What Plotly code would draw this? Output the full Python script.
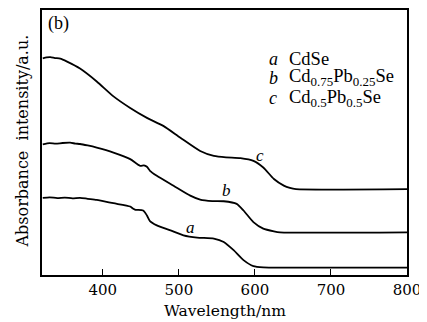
import plotly.graph_objects as go

# wavelength (nm) and absorbance (arbitrary units, offset per curve)
wl_a = [321, 330, 340, 350, 360, 370, 380, 392, 414, 436, 440, 443, 453, 458, 462, 471, 489, 506, 524, 546, 559, 572, 585, 598, 611, 625, 800]
ab_a = [77.7, 78.3, 77.5, 78.0, 77.3, 77.8, 76.8, 75.7, 72.3, 69.0, 66.7, 65.7, 65.0, 60.0, 54.3, 50.0, 45.0, 40.0, 37.7, 36.7, 33.3, 25.0, 15.0, 9.0, 7.7, 7.5, 7.5]

wl_b = [321, 330, 338, 347, 357, 364, 370, 380, 392, 414, 436, 449, 454, 458, 462, 471, 493, 515, 528, 544, 559, 576, 585, 598, 611, 625, 633, 800]
ab_b = [131.7, 132.8, 132.3, 133.0, 133.3, 132.4, 132.0, 130.5, 128.3, 123.3, 116.7, 110.0, 110.5, 109.0, 105.0, 100.0, 90.0, 80.0, 76.0, 74.5, 74.3, 71.7, 65.0, 53.3, 46.7, 44.0, 43.0, 43.0]

wl_c = [321, 326, 331, 337, 344, 353, 370, 392, 414, 436, 458, 480, 502, 528, 546, 562, 581, 598, 611, 625, 638, 646, 654, 800]
ab_c = [218.3, 219.2, 219.5, 218.6, 218.0, 215.0, 208.0, 195.0, 180.0, 168.3, 158.3, 150.0, 138.3, 125.0, 120.0, 118.5, 117.7, 115.0, 108.3, 96.7, 90.0, 87.7, 86.5, 86.5]

curve_labels = ["a", "b", "c"]
label_x = [515, 562, 607]
label_y = [48, 85, 120]

legend_names = ["CdSe", "Cd<sub>0.75</sub>Pb<sub>0.25</sub>Se", "Cd<sub>0.5</sub>Pb<sub>0.5</sub>Se"]
legend_x_letter = 616
legend_x_text = 642
legend_y = [218, 198.5, 178]

x_ticks = [400, 500, 600, 700, 800]

fig = go.Figure()
for wl, ab in [(wl_a, ab_a), (wl_b, ab_b), (wl_c, ab_c)]:
    fig.add_trace(go.Scatter(x=wl, y=ab, mode="lines",
                             line=dict(color="black", width=1.8, shape="spline", smoothing=0.6),
                             showlegend=False, hoverinfo="skip"))

ann = []
for t, x, y in zip(curve_labels, label_x, label_y):
    ann.append(dict(x=x, y=y, xref="x", yref="y", text="<i>%s</i>" % t, showarrow=False,
                    font=dict(family="Liberation Serif", size=17, color="black")))
for t, n, y in zip(curve_labels, legend_names, legend_y):
    ann.append(dict(x=legend_x_letter, y=y, xref="x", yref="y", text="<i>%s</i>" % t, showarrow=False,
                    xanchor="left", yanchor="middle",
                    font=dict(family="Liberation Serif", size=18, color="black")))
    ann.append(dict(x=legend_x_text, y=y, xref="x", yref="y", text=n, showarrow=False,
                    xanchor="left", yanchor="middle",
                    font=dict(family="Liberation Serif", size=18.5, color="black")))
ann.append(dict(x=0.01, y=0.995, xref="paper", yref="paper", text="(b)", showarrow=False,
                xanchor="left", yanchor="top",
                font=dict(family="Liberation Serif", size=18, color="black")))
ann.append(dict(x=-0.054, y=0.505, xref="paper", yref="paper", text="Absorbance\u00a0 intensity/a.u.",
                showarrow=False, textangle=-90, xanchor="center", yanchor="middle",
                font=dict(family="DejaVu Serif", size=16, color="black")))
ann.append(dict(x=0.502, y=-0.135, xref="paper", yref="paper", text="Wavelength/nm",
                showarrow=False, xanchor="center", yanchor="middle",
                font=dict(family="DejaVu Serif", size=15.5, color="black")))

# page body adds an 8px margin, so the figure is sized/margined to compensate
fig.update_layout(
    width=419, height=314,
    margin=dict(l=33.7, r=20.3, t=0, b=47, pad=0),
    paper_bgcolor="white", plot_bgcolor="white",
    annotations=ann,
    xaxis=dict(range=[320, 800], tickvals=x_ticks, ticks="inside", ticklen=6, tickwidth=1.2,
               tickcolor="black", showline=True, linecolor="black", linewidth=1.5, mirror=True,
               showgrid=False, zeroline=False,
               tickfont=dict(family="DejaVu Serif", size=15, color="black")),
    yaxis=dict(range=[0, 267], showticklabels=False, ticks="", showline=True, linecolor="black",
               linewidth=1.5, mirror=True, showgrid=False, zeroline=False),
)
fig.write_html("out.html")
